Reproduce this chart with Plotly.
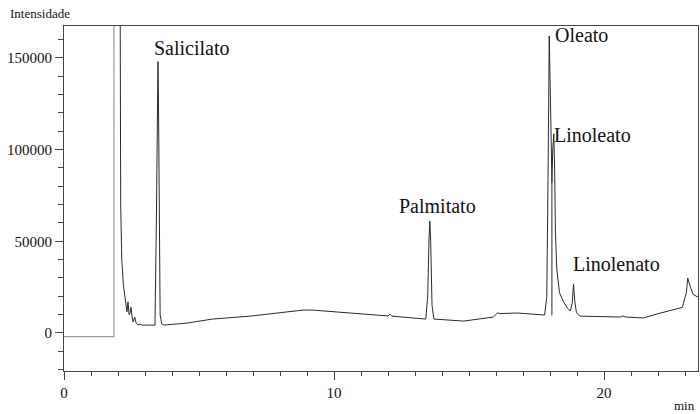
import plotly.graph_objects as go

# Retention time (min) and detector intensity for the chromatogram trace
time_pre = [0.0, 1.85, 1.85]
signal_pre = [-2000, -2000, 400000]

time_min = [
    2.04, 2.07, 2.10, 2.14, 2.20, 2.26, 2.30, 2.33, 2.37, 2.41, 2.45, 2.48,
    2.52, 2.56, 2.62, 2.67, 2.74, 2.81, 2.90, 3.00, 3.10, 3.19, 3.30, 3.37,
    3.42, 3.46, 3.48, 3.50, 3.53, 3.56, 3.62, 3.70, 4.55, 5.50, 6.90, 7.90,
    8.85, 9.20, 10.60, 12.00, 12.07, 12.14, 13.40, 13.47, 13.52, 13.55,
    13.58, 13.63, 13.70, 14.80, 15.90, 16.05, 16.15, 16.80, 17.80, 17.88,
    17.93, 17.97, 18.00, 18.04, 18.07, 18.10, 18.14, 18.17, 18.20, 18.25,
    18.35, 18.50, 18.65, 18.75, 18.82, 18.87, 18.92, 18.98, 19.10, 20.60,
    20.70, 20.80, 21.45, 22.10, 22.90, 23.05, 23.10, 23.20, 23.30, 23.48,
]
signal = [
    400000, 160000, 70000, 40000, 26000, 19500, 12500, 11500, 17000, 10000,
    11000, 14000, 9000, 6000, 8700, 5500, 4300, 4800, 4300, 4300, 4300, 4300,
    4200, 4300, 60000, 140000, 148000, 125000, 50000, 10000, 5000, 4300,
    5400, 7600, 9200, 10900, 12500, 12500, 10900, 9300, 10300, 9200, 7600,
    20000, 52000, 61000, 50000, 15000, 7600, 6500, 8700, 10900, 10600,
    10900, 9800, 20000, 90000, 162000, 140000, 95000, 82000, 100000, 108700,
    90000, 55000, 35000, 22000, 17000, 13500, 12000, 16000, 26600, 17000,
    11000, 9200, 8700, 9300, 8700, 8200, 10900, 14000, 22000, 30000, 25000,
    21000, 19600,
]

# Integration drop line under the Linoleato peak
drop_time = [18.07, 18.07]
drop_signal = [82000, 9600]

# Peak labels: (text, time, intensity)
peak_names = ["Salicilato", "Palmitato", "Oleato", "Linoleato", "Linolenato"]
peak_time = [3.26, 12.33, 18.11, 18.07, 18.78]
peak_level = [155500, 69300, 162700, 108000, 37600]

serif = "Liberation Serif"

fig = go.Figure()
fig.add_trace(go.Scatter(x=time_pre, y=signal_pre, mode="lines",
                         line=dict(color="#9a9a9a", width=1.2), showlegend=False))
fig.add_trace(go.Scatter(x=time_min, y=signal, mode="lines",
                         line=dict(color="#2a2a2a", width=1), showlegend=False))
fig.add_trace(go.Scatter(x=drop_time, y=drop_signal, mode="lines",
                         line=dict(color="#2a2a2a", width=1), showlegend=False))

for name, t, lvl in zip(peak_names, peak_time, peak_level):
    fig.add_annotation(x=t, y=lvl, xref="x", yref="y", text=name, showarrow=False,
                       xanchor="left", yanchor="middle",
                       font=dict(family=serif, size=20, color="#111111"))

fig.add_annotation(x=-0.0883, y=1.035, xref="paper", yref="paper", text="Intensidade",
                   showarrow=False, xanchor="left", yanchor="middle",
                   font=dict(family=serif, size=13, color="#111111"))
fig.add_annotation(x=0.998, y=-0.1014, xref="paper", yref="paper", text="min",
                   showarrow=False, xanchor="right", yanchor="middle",
                   font=dict(family=serif, size=13, color="#111111"))

axis_common = dict(
    showgrid=False, zeroline=False, showline=True, linecolor="#444444",
    linewidth=1, mirror=True, ticks="outside", tickcolor="#444444",
    tickwidth=1, tickfont=dict(family=serif, size=15, color="#111111"),
)

fig.update_layout(
    width=700, height=414,
    margin=dict(l=64, r=2, t=26, b=43),
    paper_bgcolor="white", plot_bgcolor="white",
    font=dict(family=serif),
    xaxis=dict(range=[0, 23.48], tick0=0, dtick=10, ticklen=8,
               minor=dict(dtick=1, ticklen=4, ticks="outside", tickcolor="#444444"),
               **axis_common),
    yaxis=dict(range=[-20730, 167450], tick0=0, dtick=50000, ticklen=8,
               tickformat="d",
               minor=dict(dtick=10000, ticklen=5, ticks="outside", tickcolor="#444444"),
               **axis_common),
)

fig.write_html("out.html")
